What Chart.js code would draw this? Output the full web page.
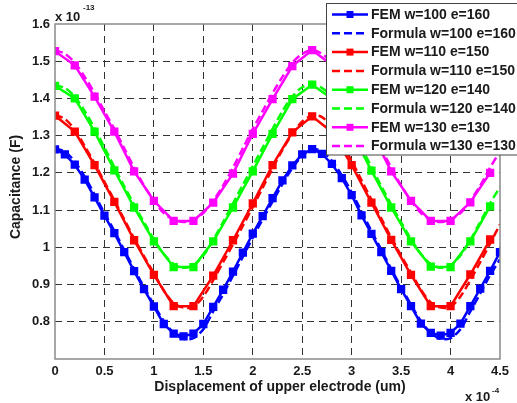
<!DOCTYPE html>
<html>
<head>
<meta charset="utf-8">
<script src="https://cdn.jsdelivr.net/npm/chart.js@4.4.0/dist/chart.umd.min.js"></script>
<style>
  html, body { margin: 0; padding: 0; background: #fff; }
  #wrap { position: relative; width: 517px; height: 403px; }
</style>
</head>
<body>
<div id="wrap"><canvas id="capChart" width="517" height="403"></canvas></div>
<script>
// displacement positions (x 1e-4 um)
const xFine = [0, 0.1, 0.2, 0.3, 0.4, 0.5, 0.6, 0.7, 0.8, 0.9, 1.0, 1.1, 1.2, 1.3, 1.4, 1.5,
  1.6, 1.7, 1.8, 1.9, 2.0, 2.1, 2.2, 2.3, 2.4, 2.5, 2.6, 2.7, 2.8, 2.9, 3.0, 3.1,
  3.2, 3.3, 3.4, 3.5, 3.6, 3.7, 3.8, 3.9, 4.0, 4.1, 4.2, 4.3, 4.4, 4.5];
const xCoarse = [0, 0.2, 0.4, 0.6, 0.8, 1.0, 1.2, 1.4, 1.6, 1.8, 2.0, 2.2, 2.4, 2.6, 2.8,
  3.0, 3.2, 3.4, 3.6, 3.8, 4.0, 4.2, 4.4];

// capacitance (x 1e-13 F)
const femW100 = [1.263, 1.250, 1.222, 1.182, 1.134, 1.085, 1.038, 0.987, 0.936, 0.888, 0.841, 0.794,
  0.768, 0.761, 0.768, 0.794, 0.840, 0.886, 0.935, 0.986, 1.037, 1.084, 1.132, 1.180, 1.220, 1.250,
  1.264, 1.251, 1.224, 1.186, 1.140, 1.086, 1.036, 0.987, 0.937, 0.888, 0.842, 0.795, 0.770, 0.763,
  0.770, 0.795, 0.842, 0.889, 0.937, 0.987];
const formW100 = [1.266, 1.257, 1.230, 1.190, 1.142, 1.092, 1.044, 0.993, 0.942, 0.893, 0.846, 0.802,
  0.770, 0.754, 0.756, 0.780, 0.828, 0.874, 0.924, 0.975, 1.026, 1.075, 1.123, 1.170, 1.213, 1.246,
  1.264, 1.258, 1.232, 1.194, 1.148, 1.096, 1.044, 0.993, 0.942, 0.893, 0.846, 0.802, 0.770, 0.754,
  0.756, 0.780, 0.828, 0.876, 0.925, 0.968];
const femW110 = [1.354, 1.311, 1.221, 1.122, 1.019, 0.926, 0.842, 0.842, 0.924, 1.019, 1.118, 1.221,
  1.309, 1.352, 1.310, 1.221, 1.120, 1.020, 0.926, 0.842, 0.842, 0.927, 1.021];
const formW110 = [1.356, 1.345, 1.316, 1.272, 1.226, 1.176, 1.126, 1.075, 1.024, 0.976, 0.930, 0.884,
  0.850, 0.838, 0.840, 0.868, 0.912, 0.960, 1.008, 1.058, 1.108, 1.160, 1.212, 1.262, 1.304, 1.338,
  1.354, 1.350, 1.322, 1.280, 1.232, 1.180, 1.128, 1.077, 1.026, 0.978, 0.932, 0.886, 0.852, 0.838,
  0.840, 0.868, 0.912, 0.960, 1.010, 1.062];
const femW120 = [1.434, 1.400, 1.311, 1.207, 1.107, 1.016, 0.947, 0.947, 1.016, 1.107, 1.204, 1.305,
  1.398, 1.437, 1.400, 1.310, 1.206, 1.107, 1.016, 0.948, 0.947, 1.016, 1.110];
const formW120 = [1.436, 1.428, 1.405, 1.366, 1.320, 1.268, 1.216, 1.164, 1.115, 1.067, 1.022, 0.982,
  0.955, 0.945, 0.952, 0.978, 1.020, 1.068, 1.118, 1.168, 1.218, 1.268, 1.318, 1.366, 1.405, 1.430,
  1.438, 1.428, 1.405, 1.366, 1.320, 1.268, 1.216, 1.164, 1.115, 1.067, 1.022, 0.982, 0.955, 0.945,
  0.952, 0.978, 1.020, 1.068, 1.118, 1.162];
const femW130 = [1.527, 1.489, 1.405, 1.311, 1.204, 1.125, 1.071, 1.071, 1.120, 1.198, 1.305, 1.398,
  1.487, 1.530, 1.490, 1.400, 1.310, 1.204, 1.125, 1.071, 1.071, 1.121, 1.200];
const formW130 = [1.530, 1.520, 1.496, 1.458, 1.414, 1.366, 1.318, 1.266, 1.214, 1.166, 1.125, 1.092,
  1.074, 1.068, 1.074, 1.092, 1.125, 1.166, 1.214, 1.266, 1.318, 1.366, 1.414, 1.458, 1.496, 1.520,
  1.530, 1.520, 1.496, 1.458, 1.414, 1.366, 1.318, 1.266, 1.214, 1.166, 1.125, 1.092, 1.074, 1.068,
  1.074, 1.092, 1.125, 1.166, 1.214, 1.258];

const seriesLabels = ['FEM w=100 e=160', 'Formula w=100 e=160', 'FEM w=110 e=150', 'Formula w=110 e=150',
  'FEM w=120 e=140', 'Formula w=120 e=140', 'FEM w=130 e=130', 'Formula w=130 e=130'];
const seriesColors = ['#0000ff', '#ff0000', '#00ff00', '#ff00ff'];

const xTicks = [0, 0.5, 1, 1.5, 2, 2.5, 3, 3.5, 4, 4.5];
const xTickLabels = ['0', '0.5', '1', '1.5', '2', '2.5', '3', '3.5', '4', '4.5'];
const yTicks = [0.8, 0.9, 1.0, 1.1, 1.2, 1.3, 1.4, 1.5, 1.6];
const yTickLabels = ['0.8', '0.9', '1', '1.1', '1.2', '1.3', '1.4', '1.5', '1.6'];

const FONT = 'Liberation Sans, Arial, sans-serif';
const toPts = (xs, ys) => ys.map((v, i) => ({ x: xs[i], y: v }));

function femSet(label, color, xs, ys) {
  return {
    label: label, data: toPts(xs, ys), borderColor: color, backgroundColor: color,
    borderWidth: 2.5, pointStyle: 'rect', pointRadius: 4.8, pointBorderWidth: 1.5,
    pointBackgroundColor: color, pointBorderColor: color, tension: 0, isFem: true
  };
}
function formSet(label, color, xs, ys) {
  return {
    label: label, data: toPts(xs, ys), borderColor: color, backgroundColor: color,
    borderWidth: 2.5, borderDash: [8, 4], pointRadius: 0, tension: 0.3, isFem: false
  };
}

const datasets = [
  femSet(seriesLabels[0], seriesColors[0], xFine, femW100),
  formSet(seriesLabels[1], seriesColors[0], xFine, formW100),
  femSet(seriesLabels[2], seriesColors[1], xCoarse, femW110),
  formSet(seriesLabels[3], seriesColors[1], xFine, formW110),
  femSet(seriesLabels[4], seriesColors[2], xCoarse, femW120),
  formSet(seriesLabels[5], seriesColors[2], xFine, formW120),
  femSet(seriesLabels[6], seriesColors[3], xCoarse, femW130),
  formSet(seriesLabels[7], seriesColors[3], xFine, formW130)
];

// box, axis titles, multipliers and the legend drawn on top
const decorations = {
  id: 'decorations',
  afterDraw(chart) {
    const ctx = chart.ctx;
    const a = chart.chartArea;
    ctx.save();
    ctx.strokeStyle = '#8a8a8a';
    ctx.lineWidth = 1.5;
    ctx.setLineDash([]);
    ctx.strokeRect(a.left, a.top, a.right - a.left, a.bottom - a.top);

    ctx.fillStyle = '#1a1a1a';
    ctx.font = 'bold 14px ' + FONT;
    ctx.textAlign = 'center';
    ctx.textBaseline = 'middle';
    ctx.fillText('Displacement of upper electrode (um)', 280, 387);
    ctx.save();
    ctx.translate(16, 187);
    ctx.rotate(-Math.PI / 2);
    ctx.fillText('Capacitance (F)', 0, 0);
    ctx.restore();

    ctx.textAlign = 'left';
    ctx.textBaseline = 'alphabetic';
    ctx.font = 'bold 13px ' + FONT;
    ctx.fillText('x 10', 55, 21);
    ctx.fillText('x 10', 465, 401);
    ctx.font = 'bold 8px ' + FONT;
    ctx.fillText('-13', 83, 10);
    ctx.fillText('-4', 492, 393);

    // legend
    const lx = 326.5, ly = 3.5, lh = 151.5;
    ctx.fillStyle = '#ffffff';
    ctx.fillRect(lx, ly, 200, lh);
    ctx.strokeStyle = '#444';
    ctx.lineWidth = 1;
    ctx.strokeRect(lx, ly, 200, lh);
    chart.data.datasets.forEach((ds, i) => {
      const cy = 14.5 + i * 18.8;
      ctx.strokeStyle = ds.borderColor;
      ctx.lineWidth = 2.5;
      ctx.setLineDash(ds.borderDash || []);
      ctx.beginPath();
      ctx.moveTo(332, cy);
      ctx.lineTo(368, cy);
      ctx.stroke();
      ctx.setLineDash([]);
      if (ds.isFem) {
        ctx.fillStyle = ds.borderColor;
        ctx.fillRect(346.5, cy - 3.5, 7, 7);
      }
      ctx.fillStyle = '#1a1a1a';
      ctx.font = 'bold 14px ' + FONT;
      ctx.textBaseline = 'middle';
      ctx.fillText(ds.label, 371, cy + 0.5);
    });
    ctx.restore();
  }
};

const dashGrid = (edgeVals) => ({
  color: c => (c.tick && edgeVals.includes(c.tick.value)) ? 'rgba(0,0,0,0)' : '#333333',
  lineWidth: 1,
  drawTicks: false
});

new Chart(document.getElementById('capChart'), {
  type: 'line',
  data: { datasets: datasets },
  options: {
    responsive: false,
    animation: false,
    layout: { padding: { top: 24, right: 17, left: 0, bottom: 0 } },
    plugins: { legend: { display: false }, tooltip: { enabled: false } },
    scales: {
      x: {
        type: 'linear', min: 0, max: 4.5,
        afterBuildTicks: s => { s.ticks = xTicks.map(v => ({ value: v })); },
        afterFit: s => { s.height = 44; },
        grid: dashGrid([0, 4.5]),
        border: { display: false, dash: [7, 5] },
        ticks: {
          padding: 5, maxRotation: 0, color: '#1a1a1a',
          font: { family: FONT, size: 13, weight: 'bold' },
          callback: v => xTickLabels[xTicks.indexOf(v)]
        }
      },
      y: {
        type: 'linear', min: 0.7, max: 1.6,
        afterBuildTicks: s => { s.ticks = yTicks.map(v => ({ value: v })); },
        afterFit: s => { s.width = 55; },
        grid: dashGrid([1.6]),
        border: { display: false, dash: [7, 5] },
        ticks: {
          padding: 5, color: '#1a1a1a',
          font: { family: FONT, size: 13, weight: 'bold' },
          callback: v => yTickLabels[yTicks.indexOf(v)]
        }
      }
    }
  },
  plugins: [decorations]
});
</script>
</body>
</html>
